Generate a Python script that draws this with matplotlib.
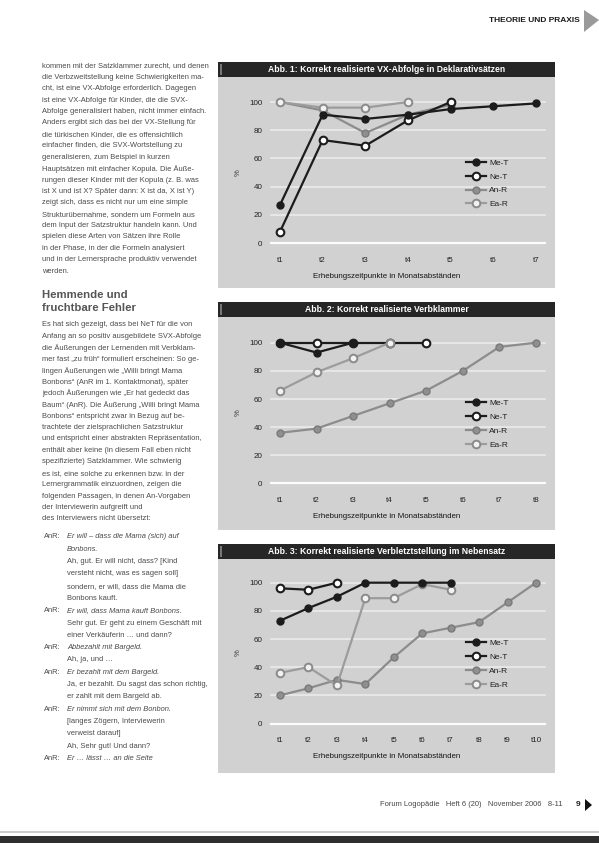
import numpy as np
import matplotlib
matplotlib.use("Agg")
import matplotlib.pyplot as plt
from matplotlib.patches import Rectangle, Polygon

nan = np.nan

# ---------------- data ----------------
series_names = ["Me-T", "Ne-T", "An-R", "Ea-R"]

c1_title = "Abb. 1: Korrekt realisierte VX-Abfolge in Deklarativsätzen"
c1_ticks = ["t1", "t2", "t3", "t4", "t5", "t6", "t7"]
c1_me_t = [27, 91, 88, 91, 95, 97, 99]
c1_ne_t = [8, 73, 69, 87, 100, nan, nan]
c1_an_r = [100, 94, 78, 91, 98, nan, nan]
c1_ea_r = [100, 96, 96, 100, nan, nan, nan]

c2_title = "Abb. 2: Korrekt realisierte Verbklammer"
c2_ticks = ["t1", "t2", "t3", "t4", "t5", "t6", "t7", "t8"]
c2_me_t = [100, 93, 100, nan, nan, nan, nan, nan]
c2_ne_t = [100, 100, 100, 100, 100, nan, nan, nan]
c2_an_r = [36, 39, 48, 57, 66, 80, 97, 100]
c2_ea_r = [66, 79, 89, 100, nan, nan, nan, nan]

c3_title = "Abb. 3: Korrekt realisierte Verbletztstellung im Nebensatz"
c3_ticks = ["t1", "t2", "t3", "t4", "t5", "t6", "t7", "t8", "t9", "t10"]
c3_me_t = [73, 82, 90, 100, 100, 100, 100, nan, nan, nan]
c3_ne_t = [96, 95, 100, nan, nan, nan, nan, nan, nan, nan]
c3_an_r = [20, 25, 31, 28, 47, 64, 68, 72, 86, 100]
c3_ea_r = [36, 40, 27, 89, 89, 99, 95, nan, nan, nan]

y_ticks = [0, 20, 40, 60, 80, 100]
x_label = "Erhebungszeitpunkte in Monatsabständen"

para1 = [
    "kommen mit der Satzklammer zurecht, und denen",
    "die Verbzweitstellung keine Schwierigkeiten ma-",
    "cht, ist eine VX-Abfolge erforderlich. Dagegen",
    "ist eine VX-Abfolge für Kinder, die die SVX-",
    "Abfolge generalisiert haben, nicht immer einfach.",
    "Anders ergibt sich das bei der VX-Stellung für",
    "die türkischen Kinder, die es offensichtlich",
    "einfacher finden, die SVX-Wortstellung zu",
    "generalisieren, zum Beispiel in kurzen",
    "Hauptsätzen mit einfacher Kopula. Die Äuße-",
    "rungen dieser Kinder mit der Kopula (z. B. was",
    "ist X und ist X? Später dann: X ist da, X ist Y)",
    "zeigt sich, dass es nicht nur um eine simple",
    "Strukturübernahme, sondern um Formeln aus",
    "dem Input der Satzstruktur handeln kann. Und",
    "spielen diese Arten von Sätzen ihre Rolle",
    "in der Phase, in der die Formeln analysiert",
    "und in der Lernersprache produktiv verwendet",
    "werden.",
]

heading = ["Hemmende und", "fruchtbare Fehler"]

para2 = [
    "Es hat sich gezeigt, dass bei NeT für die von",
    "Anfang an so positiv ausgebildete SVX-Abfolge",
    "die Äußerungen der Lernenden mit Verbklam-",
    "mer fast „zu früh“ formuliert erscheinen: So ge-",
    "lingen Äußerungen wie „Willi bringt Mama",
    "Bonbons“ (AnR im 1. Kontaktmonat), später",
    "jedoch Äußerungen wie „Er hat gedeckt das",
    "Baum“ (AnR). Die Äußerung „Willi bringt Mama",
    "Bonbons“ entspricht zwar in Bezug auf be-",
    "trachtete der zielsprachlichen Satzstruktur",
    "und entspricht einer abstrakten Repräsentation,",
    "enthält aber keine (in diesem Fall eben nicht",
    "spezifizierte) Satzklammer. Wie schwierig",
    "es ist, eine solche zu erkennen bzw. in der",
    "Lernergrammatik einzuordnen, zeigen die",
    "folgenden Passagen, in denen An-Vorgaben",
    "der Interviewerin aufgreift und",
    "des Interviewers nicht übersetzt:",
]

examples = [
    ("AnR:", "Er will – dass die Mama (sich) auf", True),
    ("", "Bonbons.", True),
    ("", "Ah, gut. Er will nicht, dass? [Kind", False),
    ("", "versteht nicht, was es sagen soll]", False),
    ("", "sondern, er will, dass die Mama die", False),
    ("", "Bonbons kauft.", False),
    ("AnR:", "Er will, dass Mama kauft Bonbons.", True),
    ("", "Sehr gut. Er geht zu einem Geschäft mit", False),
    ("", "einer Verkäuferin … und dann?", False),
    ("AnR:", "Abbezahlt mit Bargeld.", True),
    ("", "Ah, ja, und …", False),
    ("AnR:", "Er bezahlt mit dem Bargeld.", True),
    ("", "Ja, er bezahlt. Du sagst das schon richtig,", False),
    ("", "er zahlt mit dem Bargeld ab.", False),
    ("AnR:", "Er nimmt sich mit dem Bonbon.", True),
    ("", "[langes Zögern, Interviewerin", False),
    ("", "verweist darauf]", False),
    ("", "Ah, Sehr gut! Und dann?", False),
    ("AnR:", "Er … lässt … an die Seite", True),
]

footer_text = "Forum Logopädie   Heft 6 (20)   November 2006   8-11"
page_no = "9"
section = "THEORIE UND PRAXIS"

# ---------------- layout helpers ----------------
W, H = 599, 843
fig = plt.figure(figsize=(W / 100, H / 100), dpi=100)
fig.patch.set_facecolor("white")
TXT = ["Liberation Sans", "DejaVu Sans"]


def fx(x):
    return x / W


def fy(y):
    return 1 - y / H


def frect(l, t, r, b, **kw):
    fig.add_artist(Rectangle((fx(l), fy(b)), (r - l) / W, (b - t) / H,
                             transform=fig.transFigure, zorder=-5, **kw))


PANEL_L, PANEL_R = 218, 555
X_FIRST, X_LAST = 280, 536
AX_L, AX_R = 268, 548

dark = "#1c1c1c"
gray = "#8c8c8c"


def chart(bar_top, panel_bottom, y0, y100, title, ticks, me, ne, an, ea):
    frect(PANEL_L, bar_top + 15, PANEL_R, panel_bottom, fc="#d1d1d1", ec="none")
    frect(PANEL_L, bar_top, PANEL_R, bar_top + 15, fc="#262626", ec="none")
    frect(PANEL_L + 2, bar_top + 2, PANEL_L + 4, bar_top + 13, fc="#777777", ec="none")
    fig.text(fx((PANEL_L + PANEL_R) / 2), fy(bar_top + 8), title, color="white",
             fontsize=6.2, fontweight="bold", ha="center", va="center", family=TXT)

    n = len(ticks)
    top, bottom = y100 - 12, y0 + 8
    ax = fig.add_axes([fx(AX_L), fy(bottom), (AX_R - AX_L) / W, (bottom - top) / H])
    ax.patch.set_visible(False)
    u = (n - 1) / (X_LAST - X_FIRST)
    ax.set_xlim(1 - (X_FIRST - AX_L) * u, n + (AX_R - X_LAST) * u)
    k = 100 / (y0 - y100)
    ax.set_ylim(-(bottom - y0) * k, 100 + (y100 - top) * k)
    for s in ax.spines.values():
        s.set_visible(False)
    for yt in y_ticks:
        ax.axhline(yt, color="white", lw=1.6 if yt == 0 else 1.2,
                   alpha=0.95 if yt == 0 else 0.55, zorder=1, xmin=0.01, xmax=0.99)
    xs = np.arange(1, n + 1)
    ax.set_xticks(xs)
    ax.set_xticklabels(ticks)
    ax.set_yticks(y_ticks)
    ax.tick_params(length=0, labelsize=5.8, colors="#222222", pad=4)
    for lab in ax.get_xticklabels() + ax.get_yticklabels():
        lab.set_family(TXT)

    h_an, = ax.plot(xs, an, color=gray, lw=1.6, marker="o", ms=5, mfc="#8f8f8f",
                    mec="#7a7a7a", mew=1.0, zorder=3, label="An-R")
    h_ne, = ax.plot(xs, ne, color=dark, lw=1.6, marker="o", ms=5.5, mfc="white",
                    mec=dark, mew=1.5, zorder=4, label="Ne-T")
    h_ea, = ax.plot(xs, ea, color="#9c9c9c", lw=1.6, marker="o", ms=5.5, mfc="#f2f2f2",
                    mec="#8a8a8a", mew=1.4, zorder=4.5, label="Ea-R")
    h_me, = ax.plot(xs, me, color=dark, lw=1.6, marker="o", ms=5, mfc=dark,
                    mec=dark, zorder=5, label="Me-T")

    leg = fig.legend([h_me, h_ne, h_an, h_ea], series_names, loc="upper left",
                     bbox_to_anchor=(fx(466), fy(y0 - 84)), bbox_transform=fig.transFigure,
                     frameon=False, handlelength=2.4, handletextpad=0.4,
                     labelspacing=0.72, borderpad=0, borderaxespad=0,
                     prop={"family": TXT, "size": 6})
    for t in leg.get_texts():
        t.set_color("#222222")

    fig.text(fx(238), fy((y0 + y100) / 2), "%", fontsize=5.6, color="#333333",
             rotation=90, ha="center", va="center", family=TXT)
    fig.text(fx((PANEL_L + PANEL_R) / 2), fy(y0 + 33), x_label, fontsize=5.7,
             color="#151515", ha="center", va="center", family=TXT)
    return ax


chart(62, 288, 243, 102, c1_title, c1_ticks, c1_me_t, c1_ne_t, c1_an_r, c1_ea_r)
chart(302, 530, 483.5, 342.7, c2_title, c2_ticks, c2_me_t, c2_ne_t, c2_an_r, c2_ea_r)
chart(544, 773, 723.5, 582.7, c3_title, c3_ticks, c3_me_t, c3_ne_t, c3_an_r, c3_ea_r)

# ---------------- page text ----------------
body_kw = dict(fontsize=5.4, color="#4a4a4a", family=TXT, va="center", ha="left")
LS = 11.4
for i, line in enumerate(para1):
    fig.text(fx(42), fy(66 + i * LS), line, **body_kw)

fig.text(fx(42), fy(295), heading[0], fontsize=8.2, fontweight="bold", color="#555555",
         family=TXT, va="center")
fig.text(fx(42), fy(308), heading[1], fontsize=8.2, fontweight="bold", color="#555555",
         family=TXT, va="center")

for i, line in enumerate(para2):
    fig.text(fx(42), fy(325 + i * LS), line, **body_kw)

ey = 537
for lab, txt, ital in examples:
    if lab:
        fig.text(fx(44), fy(ey), lab, **body_kw)
    fig.text(fx(67), fy(ey), txt, style="italic" if ital else "normal", **body_kw)
    ey += 12.3

fig.text(fx(580), fy(20), section, fontsize=6, fontweight="bold", color="#1a1a1a",
         ha="right", va="center", family=TXT)
fig.add_artist(Polygon([[fx(584), fy(10)], [fx(599), fy(20)], [fx(584), fy(32)]],
                       closed=True, fc="#9a9a9a", ec="none", transform=fig.transFigure))

fig.text(fx(563), fy(805), footer_text, fontsize=5.4, color="#444444",
         ha="right", va="center", family=TXT)
fig.text(fx(578), fy(805), page_no, fontsize=6, fontweight="bold", color="#222222",
         ha="center", va="center", family=TXT)
fig.add_artist(Polygon([[fx(585), fy(799)], [fx(592), fy(805)], [fx(585), fy(811)]],
                       closed=True, fc="#111111", ec="none", transform=fig.transFigure))
frect(0, 831, W, 832.5, fc="#cccccc", ec="none")
frect(0, 836, W, H, fc="#2e2e2e", ec="none")

fig.savefig("out.png", dpi=100)
